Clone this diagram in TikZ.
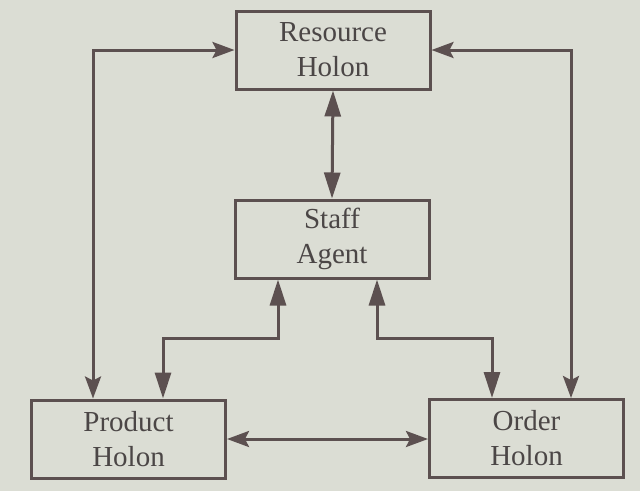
\documentclass[tikz,border=0pt]{standalone}
\usepackage{fontspec}
\setmainfont{Liberation Serif}
\usetikzlibrary{arrows.meta}
\definecolor{bgc}{RGB}{219,221,212}
\definecolor{linec}{RGB}{92,80,80}
\definecolor{textc}{RGB}{75,70,70}
\begin{document}
\begin{tikzpicture}[x=1pt,y=-1pt,
  box/.style={draw=linec,line width=3pt,minimum width=194pt,minimum height=78pt,inner sep=0pt,
    text=textc,font=\fontsize{29}{35}\selectfont,align=center},
  conn/.style={draw=linec,line width=3pt,{Triangle[length=26pt,width=16pt]}-{Triangle[length=26pt,width=16pt]}},
  loop/.style={draw=linec,line width=3pt,{Stealth[length=22pt,width=16pt,inset=4pt]}-{Stealth[length=22pt,width=16pt,inset=4pt]}}]
\fill[bgc] (0,0) rectangle (640,491);
\useasboundingbox (0,0) rectangle (640,491);
\node[box] (res) at (333,50) {Resource\\Holon};
\node[box] (staff) at (332,239) {Staff\\Agent};
\node[box] (prod) at (128.5,439) {Product\\Holon};
\node[box] (ord) at (526.5,438.5) {Order\\Holon};
\draw[loop] (res.west) -| (prod.north -| 93,0);
\draw[loop] (res.east) -| (ord.north -| 571,0);
\draw[conn] (res.south) -- (staff.north);
\draw[conn] (staff.south -| 278,0) |- (220,338) -| (prod.north -| 163,0);
\draw[conn] (staff.south -| 377,0) |- (430,338) -| (ord.north -| 492,0);
\draw[loop] (prod.east) -- (ord.west |- prod.east);
\end{tikzpicture}
\end{document}
